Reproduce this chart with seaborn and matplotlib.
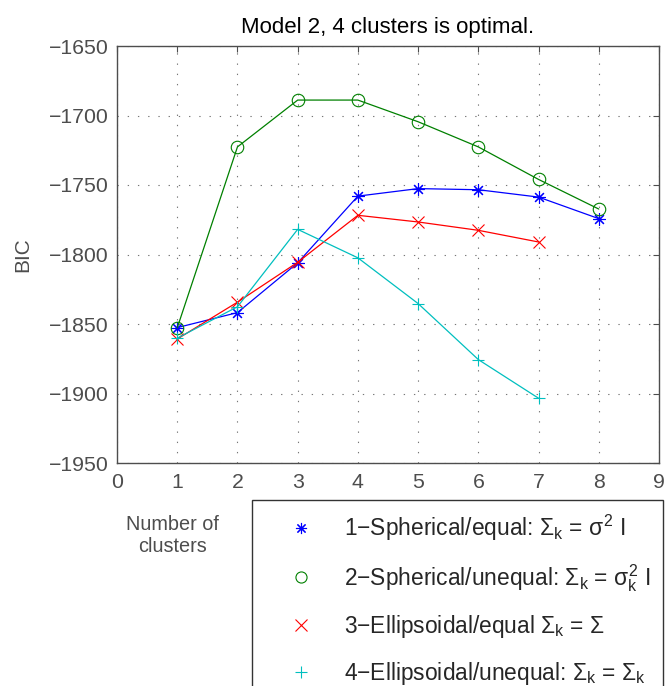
import pandas as pd
import matplotlib
matplotlib.use("Agg")
import matplotlib.pyplot as plt
from matplotlib.lines import Line2D
import seaborn as sns

# BIC values, one list per covariance model
clusters_8 = [1, 2, 3, 4, 5, 6, 7, 8]
clusters_7 = [1, 2, 3, 4, 5, 6, 7]
bic_model1 = [-1852.6, -1841.8, -1806.0, -1758.0, -1752.6, -1753.4, -1758.7, -1774.2]
bic_model2 = [-1852.8, -1722.6, -1688.9, -1688.9, -1704.5, -1722.6, -1746.0, -1767.3]
bic_model3 = [-1860.8, -1834.3, -1805.6, -1771.8, -1776.6, -1782.6, -1791.0]
bic_model4 = [-1860.2, -1837.6, -1781.9, -1802.4, -1835.3, -1875.6, -1903.4]

labels = [
    r"1$-$Spherical/equal: $\Sigma_k$ = $\sigma^2$ I",
    r"2$-$Spherical/unequal: $\Sigma_k$ = $\sigma_k^2$ I",
    r"3$-$Ellipsoidal/equal $\Sigma_k$ = $\Sigma$",
    r"4$-$Ellipsoidal/unequal: $\Sigma_k$ = $\Sigma_k$",
]
colors = ["#0000ff", "#008000", "#ff0000", "#00bfbf"]
markers = [(8, 2, 0), "o", "x", "+"]

sns.set_style("white")
plt.rcParams["font.family"] = ["Liberation Sans", "DejaVu Sans"]
plt.rcParams["mathtext.fontset"] = "custom"
plt.rcParams["mathtext.rm"] = "Liberation Sans"
plt.rcParams["mathtext.it"] = "Liberation Sans"
plt.rcParams["mathtext.bf"] = "Liberation Sans:bold"

gray = "#4d4d4d"

fig = plt.figure(figsize=(6.66, 6.86), dpi=100)
ax = fig.add_axes([117 / 666, 1 - 463 / 686, (659 - 117) / 666, (463 - 46) / 686])

series = [
    (clusters_8, bic_model1),
    (clusters_8, bic_model2),
    (clusters_7, bic_model3),
    (clusters_7, bic_model4),
]
for (xs, ys), col, mk in zip(series, colors, markers):
    df = pd.DataFrame({"clusters": xs, "bic": ys})
    sns.lineplot(data=df, x="clusters", y="bic", ax=ax, color=col, marker=mk,
                 markersize=9, markeredgecolor=col, markerfacecolor="none",
                 markeredgewidth=0.8, linewidth=0.9, legend=False)

ax.set_xlim(0, 9)
ax.set_ylim(-1950, -1650)
ax.set_xticks(range(0, 10))
ax.set_yticks(range(-1950, -1649, 50))
ax.grid(True, color="#777777", linestyle=(0, (1.2, 8)), linewidth=0.8)
ax.tick_params(direction="in", length=4, width=0.8, colors=gray, labelsize=15.3,
               top=True, right=True, pad=6)
ax.tick_params(axis="x", pad=7)
for sp in ax.spines.values():
    sp.set_color(gray)
    sp.set_linewidth(1.0)

ax.set_title("Model 2, 4 clusters is optimal.", fontsize=16, color="black", pad=9)
ax.set_ylabel("BIC", fontsize=15, color=gray, labelpad=12)
ax.set_xlabel("Number of\nclusters", fontsize=14.3, color=gray, va="top", ha="center")
ax.xaxis.set_label_coords(0.1015, -0.125)

handles = [Line2D([], [], linestyle="none", marker=mk, color=col, markeredgecolor=col,
                  markerfacecolor="none", markersize=8, markeredgewidth=0.8)
           for col, mk in zip(colors, markers)]
leg = fig.legend(handles, labels, loc="upper left", bbox_to_anchor=(252 / 666, 1 - 500 / 686),
                 fontsize=16.4, frameon=True, fancybox=False, borderpad=0.55,
                 labelspacing=0.85, handlelength=3.2, handletextpad=0.3, borderaxespad=0)
leg.get_frame().set_edgecolor("black")
leg.get_frame().set_linewidth(1.0)

fig.savefig("out.png", dpi=100)
